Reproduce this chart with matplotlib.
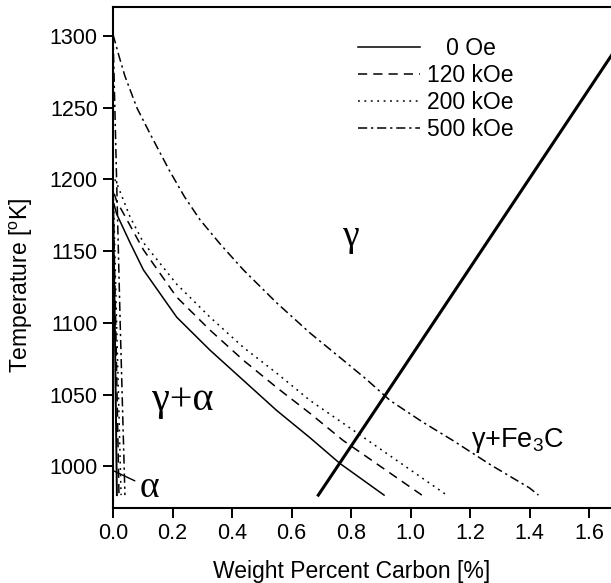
import matplotlib
matplotlib.use("Agg")
from matplotlib import pyplot as plt

plt.rcParams['font.family'] = ['Liberation Sans', 'DejaVu Sans']
plt.rcParams['mathtext.fontset'] = 'custom'
plt.rcParams['mathtext.rm'] = 'Liberation Sans'
plt.rcParams['mathtext.it'] = 'Liberation Sans:italic'

# field strengths
fields = ["0 Oe", "120 kOe", "200 kOe", "500 kOe"]

# gamma / (gamma+alpha) boundary for each field (wt% C, K)
a3_c_0 = [0.003, 0.012, 0.057, 0.102, 0.214, 0.326, 0.438, 0.550, 0.662, 0.763, 0.911]
a3_t_0 = [1183, 1176, 1156, 1137, 1104, 1081, 1060, 1039, 1020, 1002, 980]
a3_c_120 = [0.004, 0.012, 0.057, 0.102, 0.214, 0.326, 0.438, 0.550, 0.662, 0.774, 1.038]
a3_t_120 = [1190, 1185, 1168, 1151, 1118, 1095, 1074, 1055, 1037, 1018, 980]
a3_c_200 = [0.006, 0.015, 0.057, 0.102, 0.214, 0.326, 0.438, 0.550, 0.662, 0.774, 1.122]
a3_t_200 = [1200, 1196, 1174, 1156, 1127, 1104, 1083, 1065, 1046, 1030, 980]
a3_c_500 = [0.0, 0.02, 0.04, 0.08, 0.124, 0.19, 0.24, 0.292, 0.36, 0.438, 0.55,
            0.662, 0.774, 0.85, 0.931, 1.04, 1.143, 1.27, 1.40, 1.43]
a3_t_500 = [1301, 1286, 1272, 1250, 1232, 1206, 1188, 1172, 1155, 1137, 1114,
            1093, 1074, 1061, 1046, 1031, 1018, 1001, 985, 980]

# alpha / (gamma+alpha) solvus
a_c_0 = [0.0, 0.006, 0.013]
a_t_0 = [1183, 1100, 980]
a_c_120 = [0.0, 0.009, 0.020]
a_t_120 = [1190, 1100, 980]
a_c_200 = [0.0, 0.012, 0.027]
a_t_200 = [1200, 1100, 980]
a_c_500 = [0.0, 0.012, 0.024, 0.040]
a_t_500 = [1301, 1200, 1100, 980]

# Acm line, gamma / (gamma+Fe3C)
acm_c = [0.69, 0.90, 1.674, 1.75]
acm_t = [980, 1045, 1286, 1309]

styles = ["-", (0, (6, 4)), (0, (1.2, 3)), (0, (6, 2.5, 1.5, 2.5))]
a3_c = [a3_c_0, a3_c_120, a3_c_200, a3_c_500]
a3_t = [a3_t_0, a3_t_120, a3_t_200, a3_t_500]
a_c = [a_c_0, a_c_120, a_c_200, a_c_500]
a_t = [a_t_0, a_t_120, a_t_200, a_t_500]

fig = plt.figure(figsize=(6.11, 5.83), dpi=100)
ax = fig.add_axes([0.185, 0.1286, 0.8764, 0.859])

for label, ls, cx, tx, ax_c, ax_t in zip(fields, styles, a3_c, a3_t, a_c, a_t):
    ax.plot(cx, tx, color="black", ls=ls, lw=1.1, label=label)
    ax.plot(ax_c, ax_t, color="black", ls=ls, lw=1.4 if ls == "-" else 1.1)

ax.plot(acm_c, acm_t, color="black", lw=2.2)

# phase labels
ax.text(0.797, 1160, "γ", family="Liberation Serif", fontsize=27, ha="center", va="center")
ax.text(0.236, 1046, "γ+α", family="Liberation Serif", fontsize=29, ha="center", va="center")
ax.text(1.36, 1018, "γ+Fe$_3$C", fontsize=19.5, ha="center", va="center")
ax.annotate("α", xy=(0.001, 997), xytext=(0.124, 985),
            family="Liberation Serif", fontsize=27, ha="center", va="center",
            arrowprops=dict(arrowstyle="-", color="black", lw=1.0, shrinkA=2, shrinkB=0))

ax.set_xlim(0, 1.8)
ax.set_ylim(971, 1320)
ax.set_xticks([0.0, 0.2, 0.4, 0.6, 0.8, 1.0, 1.2, 1.4, 1.6])
ax.set_yticks([1000, 1050, 1100, 1150, 1200, 1250, 1300])
ax.xaxis.set_major_formatter(matplotlib.ticker.FormatStrFormatter("%.1f"))
ax.tick_params(axis="both", which="major", labelsize=15.5, length=7, width=1.4,
               direction="out", pad=4)
for side in ["left", "bottom", "top", "right"]:
    ax.spines[side].set_linewidth(1.5)

ax.set_xlabel("Weight Percent Carbon [%]", fontsize=16.5)
ax.xaxis.set_label_coords(0.446, -0.104)
ax.set_ylabel("Temperature [$^\\mathrm{o}$K]", fontsize=16.5)
ax.yaxis.set_label_coords(-0.146, 0.445)

handles, labels = ax.get_legend_handles_labels()
labels = ["   " + labels[0]] + labels[1:]
ax.legend(handles, labels, loc="upper left", bbox_to_anchor=(0.4575, 0.94),
          frameon=False, fontsize=16.5, handlelength=2.7, handletextpad=0.3,
          labelspacing=0.17, borderpad=0, borderaxespad=0)

plt.savefig("out.png", dpi=100)
